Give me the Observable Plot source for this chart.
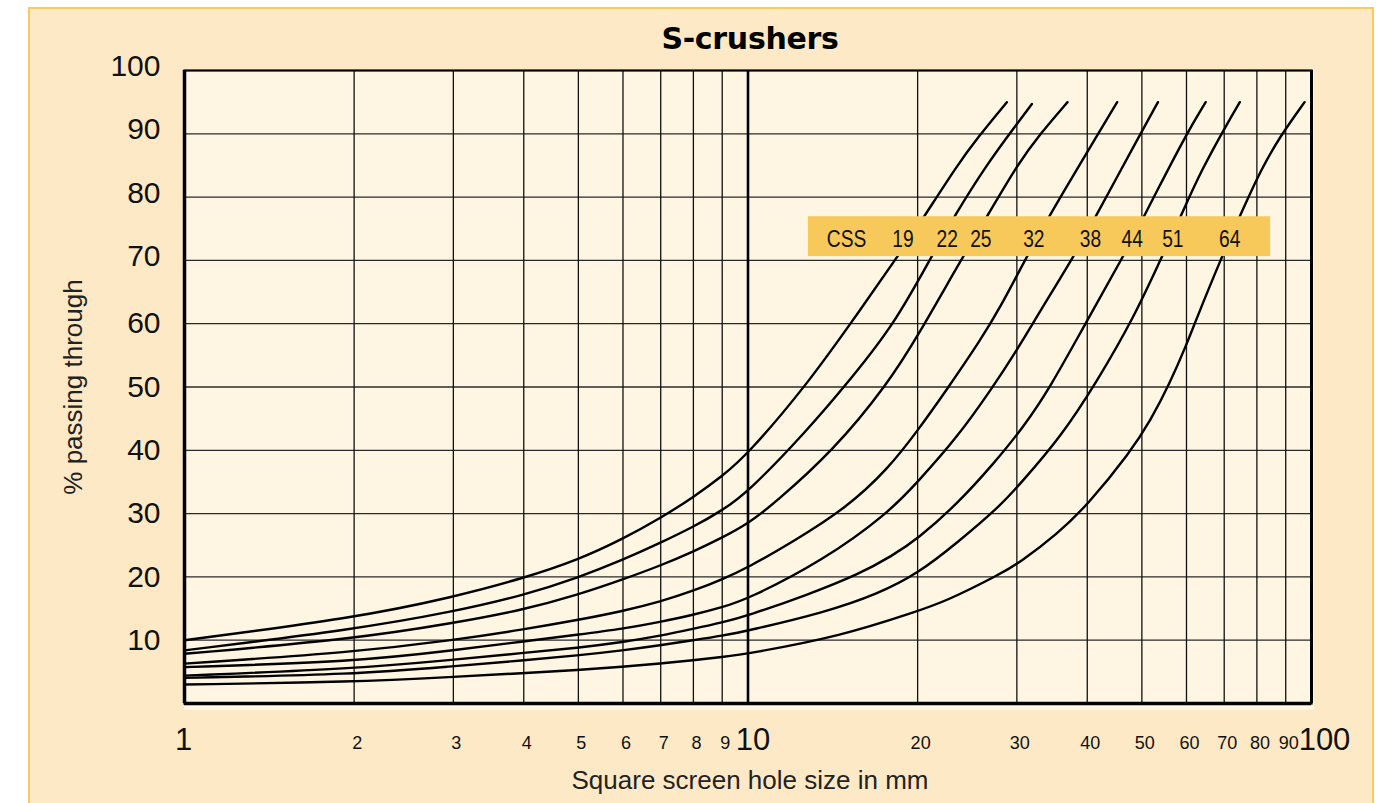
<!DOCTYPE html>
<html><head><meta charset="utf-8">
<script src="https://cdn.jsdelivr.net/npm/d3@7"></script>
<script src="https://cdn.jsdelivr.net/npm/@observablehq/plot@0.6"></script>
<style>
html,body{margin:0;padding:0;background:#fff;width:1390px;height:803px;overflow:hidden}
#panel{position:absolute;left:28px;top:7px;width:1346px;height:830px;background:#fee9c6;border:2px solid #f7cb62;box-sizing:border-box}
#chart{position:absolute;left:0;top:0;width:1390px}
#titlebox{position:relative;height:55px}
#title{position:absolute;left:750px;top:24px;transform:translateX(-50%);font-family:"DejaVu Sans",sans-serif;font-weight:bold;font-size:30px;line-height:30px;color:#000;white-space:nowrap;letter-spacing:-0.3px}
svg{display:block}
</style></head>
<body>
<div id="panel"></div>
<div id="chart"><div id="titlebox"><div id="title">S-crushers</div></div></div>
<script>
// ---- data ----
const xMajor = [1, 10, 100];
const xMinor = [2, 3, 4, 5, 6, 7, 8, 9, 20, 30, 40, 50, 60, 70, 80, 90];
const yTicksLow = [10, 20, 30, 40, 50, 60];
const yTicksHigh = [70, 80, 90, 100];
const yGrid = [10, 20, 30, 40, 50, 60, 70, 80, 90];

const cssNames = ["19", "22", "25", "32", "38", "44", "51", "64"];
const css19 = [[1,10.0],[2,13.5],[3,16.8],[4,19.8],[5,22.7],[6,26.0],[7,29.3],[8,32.6],[9,35.9],[10,39.4],[12.7,50.3],[15.2,60],[18.4,70.5],[20.5,76.8],[23.5,85.0],[25.5,89.3],[28.8,95]];
const css22 = [[1,8.4],[2,11.7],[3,14.5],[4,17.1],[5,19.9],[6,22.7],[7,25.4],[8,27.9],[9,30.5],[10,33.4],[12.7,43.0],[15.3,51.5],[18.2,60],[21.2,70.7],[23.2,76.9],[26.6,85.3],[29.8,91.2],[31.9,94.7]];
const css25 = [[1,7.85],[2,10.2],[3,12.7],[4,14.8],[5,17.2],[6,19.6],[7,21.8],[8,24.0],[9,26.2],[10,28.4],[11.1,31.5],[14.2,40.0],[17.7,50.5],[20,58],[24.1,70.7],[26.8,77.5],[30,85],[33,90],[36.9,95]];
const css32 = [[1,6.3],[2,8.1],[3,10.0],[4,11.7],[5,13.2],[6,14.6],[7,16.1],[8,17.8],[9,19.6],[10,21.5],[12,25.5],[15,31.0],[17.7,37],[20,43.1],[22.5,49.5],[25.9,57.5],[28,62.5],[30.9,69.8],[34.2,76.9],[36.4,81],[41.8,90],[45.2,95]];
const css38 = [[1,5.75],[2,6.6],[3,8.4],[4,9.8],[5,10.9],[6,11.8],[7,12.9],[8,14.0],[9,15.2],[10,16.5],[13.6,22.6],[17.7,30.0],[20,35],[23.5,42.0],[27.2,50.0],[30,55.8],[33,62.0],[37.9,70.7],[41.4,76.9],[49.7,90],[53.4,95]];
const css44 = [[1,4.4],[2,5.5],[3,6.9],[4,8.0],[5,8.8],[6,9.7],[7,10.7],[8,11.8],[9,12.8],[10,13.9],[12.7,17.1],[15.8,20.5],[18,23.3],[20,26],[23.5,31.5],[27.3,37.9],[30.9,43.8],[34.4,50],[39.4,59.5],[46.4,70.7],[50.4,76.9],[52.5,80],[60,90],[64.9,95]];
const css51 = [[1,4.05],[2,4.6],[3,5.9],[4,6.8],[5,7.6],[6,8.4],[7,9.2],[8,10.0],[9,10.7],[10,11.5],[13.7,14.4],[17,17.3],[20,20.5],[23.6,25.5],[28.1,31.3],[30.4,34.7],[35.9,42.1],[41.7,51.0],[48.4,61],[54,70.2],[58.6,76.9],[63.5,84],[71.8,92.5],[74.6,95]];
const css64 = [[1,3.0],[2,3.4],[3,4.2],[4,4.8],[5,5.3],[6,5.8],[7,6.3],[8,6.85],[9,7.35],[10,7.85],[14.7,10.7],[19.7,14.4],[22.4,16.1],[28.1,20.5],[30.4,22.3],[35.4,26.8],[40,31.3],[47.7,39.7],[51.8,44.7],[56,50.5],[60.2,57],[62,60],[69.4,70.7],[74.8,77.2],[81.2,84.2],[87.8,89.5],[97.2,95]];
const cssCurves = [css19, css22, css25, css32, css38, css44, css51, css64];

const legendText = ["CSS", "19", "22", "25", "32", "38", "44", "51", "64"];
const legendAt = [14.96, 18.83, 22.57, 25.89, 32.15, 40.53, 48.06, 56.74, 71.6];
const legendRow = 73.4;
const legendBox = {x1: 12.8, x2: 84.6, y1: 70.6, y2: 76.9};

// ---- build ----
const rows = cssNames.flatMap((n, i) => cssCurves[i].map(([x, y]) => ({css: n, x, y})));
const legendRows = legendText.map((t, i) => ({t, x: legendAt[i], y: legendRow}));

const numFont = "'Liberation Sans', Arial, Helvetica, sans-serif";

const plot = Plot.plot({
  width: 1390,
  height: 748,
  marginLeft: 184,
  marginRight: 79,
  marginTop: 15,
  marginBottom: 100,
  style: {background: "transparent", overflow: "visible", fontFamily: numFont, color: "#000"},
  x: {type: "log", domain: [1, 100], axis: null},
  y: {domain: [0, 100], axis: null},
  marks: [
    Plot.rect([{x1: 1, x2: 101.2, y1: -1.1, y2: 100}], {x1: "x1", x2: "x2", y1: "y1", y2: "y2", fill: "#fef5e3"}),
    Plot.ruleY(yGrid, {stroke: "#2a2a2a", strokeWidth: 1.3}),
    Plot.ruleX(xMinor, {stroke: "#111", strokeWidth: 1.3}),
    Plot.ruleX([10], {stroke: "#000", strokeWidth: 2.6}),
    Plot.line(rows, {x: "x", y: "y", z: "css", stroke: "#000", strokeWidth: 2.4, curve: "basis"}),
    // CSS legend band, drawn over the curves
    Plot.rect([legendBox], {x1: "x1", x2: "x2", y1: "y1", y2: "y2", fill: "#f6c95a"}),
    Plot.text(legendRows, {x: "x", y: "y", text: "t", fontSize: 24, fontFamily: numFont, fill: "#111", lineAnchor: "middle", className: "css-legend"}),
    Plot.frame({stroke: "#000", strokeWidth: 2.2}),
    Plot.ruleX([1], {stroke: "#000", strokeWidth: 3.5}),
    Plot.ruleX([100], {stroke: "#000", strokeWidth: 3}),
    Plot.ruleY([0], {stroke: "#000", strokeWidth: 3.5}),
    // y tick labels
    Plot.text(yTicksLow, {y: d => d, frameAnchor: "left", textAnchor: "end", dx: -24, fontSize: 30, lineAnchor: "middle", fill: "#111"}),
    Plot.text(yTicksHigh, {y: d => d, frameAnchor: "left", textAnchor: "end", dx: -24, dy: -4, fontSize: 30, lineAnchor: "middle", fill: "#111"}),
    // x tick labels
    Plot.text(xMinor, {x: d => d, frameAnchor: "bottom", lineAnchor: "bottom", dy: 45, dx: 3, fontSize: 18, fill: "#111"}),
    Plot.text([xMajor[0]], {x: d => d, frameAnchor: "bottom", lineAnchor: "bottom", dy: 46, dx: -1, fontSize: 31, fill: "#111"}),
    Plot.text([xMajor[1]], {x: d => d, frameAnchor: "bottom", lineAnchor: "bottom", dy: 46, dx: 5, fontSize: 31, fill: "#111"}),
    Plot.text([xMajor[2]], {x: d => d, frameAnchor: "bottom", lineAnchor: "bottom", dy: 46, dx: 13, fontSize: 31, fill: "#111"}),
    // axis titles
    Plot.text(["Square screen hole size in mm"], {frameAnchor: "bottom", lineAnchor: "bottom", textAnchor: "middle", dy: 85, dx: 2, fontSize: 26, fill: "#222"}),
    Plot.text(["% passing through"], {frameAnchor: "left", textAnchor: "middle", rotate: -90, dx: -111, fontSize: 26, lineAnchor: "middle", fill: "#222"})
  ]
});
// condense the CSS legend glyphs horizontally, as in the reference
d3.select(plot).selectAll(".css-legend text").each(function() {
  const t = this.getAttribute("transform") || "";
  this.setAttribute("transform", t + " scale(0.8,1)");
});
document.getElementById("chart").appendChild(plot);
</script>
</body></html>
